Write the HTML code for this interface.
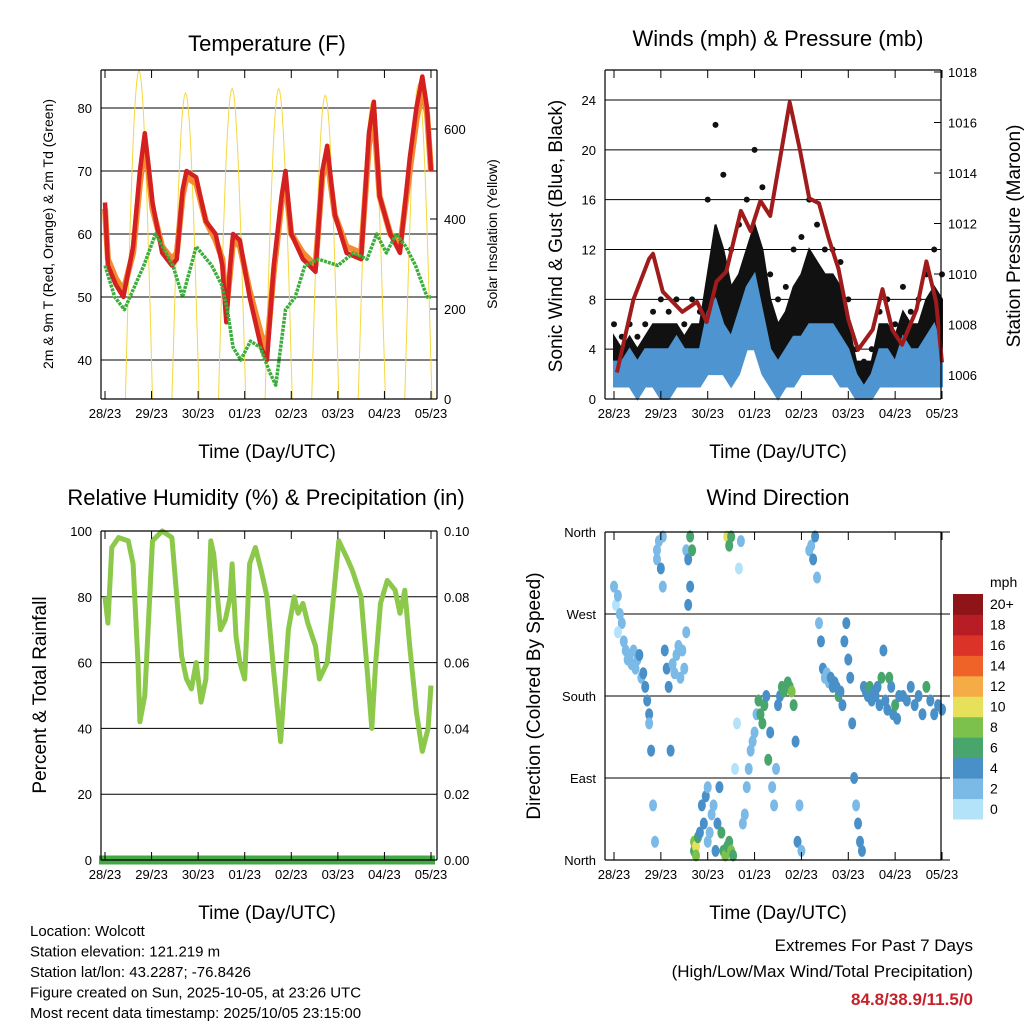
<!DOCTYPE html>
<html><head><meta charset="utf-8"><style>
html,body{margin:0;padding:0;background:#fff;}
svg{display:block;font-family:"Liberation Sans",Arial,sans-serif;}
</style></head><body>
<svg id="c" width="1024" height="1024" viewBox="0 0 1024 1024" xmlns="http://www.w3.org/2000/svg"></svg>
<script>
// ---------- DATA ----------
const dayLabels = ["28/23","29/23","30/23","01/23","02/23","03/23","04/23","05/23"];
const tHours = [0,1.5,5.5,9.5,14.5,18,20.5,22,24.5,29.5,34.5,37,40,42,47,52,57,60.5,62.5,64.5,66,69.5,74.5,80.5,83.5,87,91,93,96,102,108.5,112,114.5,118.5,124.5,132,136,138.5,141.5,147,152,157,160.5,163.5,166,168];
const tRed    = [65,55,52,50,58,70,76,72,65,57,55,56,67,70,69,62,60,55,46,55,60,59,50,42,40,55,66,70,60,56,54,70,74,63,57,56,76,81,66,60,57,72,80,85,80,70];
const tOrange = [64,56,53,51,57,68,74,71,64,58,56,57,66,69,68,62,59,56,48,54,59,58,51,44,42,54,65,68,60,57,55,69,72,63,58,57,74,79,66,60,58,70,78,83,79,70];
const tdHours = [0,5,10,20,26,35,40,47,55,60,63,66,70,75,80,85,88,93,98,103,110,120,128,135,140,145,150,155,160,166,168];
const tdVals  = [55,50,48,55,60,55,50,58,55,52,48,42,40,43,42,38,36,48,50,55,56,55,57,56,60,57,60,58,55,50,50];
const solarPeaks = [730,680,690,690,675,660,700];
const windStepHours = 4;
const gustHi = [6,5,6,5,6,7,8,7,8,6,8,7,16,22,18,12,14,16,20,17,10,8,9,12,13,16,14,12,12,11,8,4,3,4,7,8,6,9,7,8,10,12,10];
const gustBand = [5,4,5,4,5,6,6,6,6,5,6,6,10,14,12,9,10,12,14,12,8,6,7,9,10,12,11,10,10,9,6,3,3,3,6,6,5,7,6,6,8,9,8];
const gustLo = [2,2,2,1,2,2,1,1,2,2,2,2,4,5,4,3,5,8,9,6,3,2,2,3,4,5,5,4,4,3,2,0,0,1,2,2,2,2,2,2,3,3,2];
const windHi = [3,3,4,3,4,4,4,4,5,4,4,4,7,8,6,5,7,9,10,7,4,3,4,5,5,6,6,6,6,5,4,2,1,2,4,4,3,5,4,4,5,6,4];
const windLo = [1,1,1,0,1,1,0,0,1,1,1,1,2,2,2,1,2,4,4,2,1,0,1,1,2,2,2,2,2,1,1,0,0,0,1,1,1,1,1,1,1,1,1];
const presHours = [1.5,10,18,20,25,35,42.5,47.5,52.5,57.5,65,70,75,80,90,95,100,105,110,115,120,125,132.5,137.5,142.5,147.5,155,160,165,168];
const presVals  = [1006.1,1009,1010.6,1010.8,1009.3,1008.5,1008.9,1008.1,1009.7,1010.1,1012.5,1011.7,1012.9,1012.3,1016.8,1015,1013,1012.8,1011.4,1010.2,1008.2,1007,1007.8,1009.4,1007.8,1007.2,1008.6,1010.5,1008.9,1006.5];
const rhHours = [0,1.5,3.5,7,12,14.5,17,18,20.5,24.5,29.5,34.5,37,39.5,42,44.5,47,49.5,52,54.5,56,59.5,62,64.5,65.5,67.5,69.5,72,74.5,77.5,80.5,83.5,87,90.5,94.5,97.5,99.5,102,104.5,108.5,110.5,114.5,120.5,124.5,127.5,132,135.5,137.5,139.5,142,145.5,149.5,152,154.5,157,160.5,163.5,166.5,168];
const rhVals  = [80,72,95,98,97,90,60,42,50,97,100,98,80,62,55,52,60,48,55,97,93,70,73,80,90,68,60,55,90,95,88,80,57,36,70,80,75,78,72,65,55,60,97,92,88,80,55,40,60,78,85,82,75,82,65,45,33,40,53];
const precipVals = [0,0];
const wdHours = [0,1,2,3,4,2,5,6,7,8,9,10,11,12,13,14,15,16,17,18,18,19,20,21,22,22,23,24,25,25,26,27,28,29,30,31,32,33,34,35,36,37,37,38,38,39,39,40,41,41,42,42,43,44,45,46,47,48,48,49,50,51,52,53,54,55,56,57,58,59,60,61,58,59,60,62,63,64,65,66,67,68,69,70,71,72,73,74,75,76,77,78,79,80,81,82,83,84,85,86,87,88,89,90,91,92,93,94,95,96,100,101,102,103,104,105,106,107,108,109,110,111,112,113,114,115,116,117,118,119,120,121,122,123,124,125,126,127,128,129,130,131,132,133,134,135,136,137,138,139,140,141,142,143,144,145,146,148,150,152,154,156,158,160,162,164,166,168];
const wdDirs  = [300,280,290,270,260,250,240,230,220,225,215,230,210,220,225,200,205,190,175,160,150,120,60,20,340,330,350,320,300,355,230,210,190,120,215,205,225,235,200,230,210,250,340,330,280,300,355,340,10,20,15,5,25,30,60,40,70,20,80,30,50,60,10,40,80,30,10,5,15,20,10,5,355,345,355,100,150,320,350,40,50,80,100,120,130,140,160,175,160,150,170,180,110,140,80,60,100,170,180,190,185,190,195,190,185,170,130,20,60,10,340,345,330,355,310,260,240,210,200,205,195,200,190,195,190,180,185,170,240,260,220,200,150,90,60,40,20,10,190,185,180,190,175,185,180,190,170,200,230,175,165,200,190,160,170,155,180,180,175,190,170,180,160,190,175,160,170,165];
const wdSpeeds= [2,0,2,2,2,0,2,2,2,2,2,2,2,2,4,2,4,4,4,4,2,4,2,2,2,2,2,4,2,2,4,4,4,4,2,2,2,2,2,2,2,2,2,4,4,4,6,6,6,8,10,8,6,4,4,4,4,2,2,2,2,2,4,4,4,6,6,8,6,6,8,6,10,6,6,0,0,0,2,2,2,2,2,2,2,2,2,6,6,6,6,4,6,4,2,2,2,4,4,6,6,6,6,6,8,6,4,4,2,2,2,2,4,4,2,2,4,4,2,2,2,4,4,4,4,6,4,4,4,4,4,4,4,4,2,4,4,4,4,4,4,6,4,4,4,4,4,6,4,4,4,6,4,4,6,4,4,4,4,4,4,4,4,6,4,4,4,4,2];
const speedBins = ["0","2","4","6","8","10","12","14","16","18","20+"];
const speedColors = ["#b3e3f8","#7bbae6","#4a90c8","#48a66c","#7cc14c","#e6e05a","#f6ac46","#ef6228","#dc3328","#b81c24","#8e1418"];
const dirLabels = ["North","East","South","West","North"];

// ---------- HELPERS ----------
const NS="http://www.w3.org/2000/svg";
const svg=document.getElementById('c');
function el(tag,attrs,parent){const e=document.createElementNS(NS,tag);for(const k in attrs)e.setAttribute(k,attrs[k]);(parent||svg).appendChild(e);return e;}
function txt(s,x,y,size,anchor,parent,extra){const t=el('text',Object.assign({x:x,y:y,'font-size':size,'text-anchor':anchor||'middle',fill:'#000'},extra||{}),parent);t.textContent=s;return t;}
function panel(x0,y0,w,h){return {x0,y0,w,h,x:hr=>x0+hr/168*w};}
function lin(v,v0,v1,p0,p1){return p0+(v-v0)/(v1-v0)*(p1-p0);}
function xAxis(P,gx0,gx1,name){
  const g=el('g',{});
  
  
  dayLabels.forEach((d,i)=>{const x=P.x0+i*P.w/7;
    el('line',{x1:x,x2:x,y1:P.y0+P.h,y2:P.y0+P.h-8,stroke:'#000','stroke-width':1},g);
    el('line',{x1:x,x2:x,y1:P.y0,y2:P.y0+8,stroke:'#000','stroke-width':1},g);
    txt(d,x,P.y0+P.h+19,13,'middle',g);});
  el('line',{x1:gx0,x2:gx1,y1:P.y0+P.h,y2:P.y0+P.h,stroke:'#000','stroke-width':1.2},g);
  el('line',{x1:gx0,x2:gx1,y1:P.y0,y2:P.y0,stroke:'#000','stroke-width':1.2},g);
  el('line',{x1:gx0,x2:gx0,y1:P.y0,y2:P.y0+P.h,stroke:'#000','stroke-width':1.2},g);
  el('line',{x1:gx1,x2:gx1,y1:P.y0,y2:P.y0+P.h,stroke:'#000','stroke-width':1.2},g);
}
function pathFrom(xs,ys){return xs.map((x,i)=>(i?'L':'M')+x.toFixed(1)+','+ys[i].toFixed(1)).join('');}

// ---------- PANEL 1 ----------
(function(){
  const P=panel(105,70,326,329);
  const yT=v=>lin(v,40,80,360,108);
  const yS=v=>lin(v,0,600,399,129);
  const g=el('g',{});
  
  
  const cp=el('clipPath',{id:'cp1'},g);el('rect',{x:101,y:70,width:336,height:329},cp);
  [40,50,60,70,80].forEach(v=>{el('line',{x1:101,x2:437,y1:yT(v),y2:yT(v),stroke:'#000','stroke-width':1},g);txt(String(v),92,yT(v)+5,13,'end',g);});
  [0,200,400,600].forEach(v=>{el('line',{x1:437,x2:430,y1:yS(v),y2:yS(v),stroke:'#000'},g);txt(String(v),444,yS(v)+5,13,'start',g);});
  const inner=el('g',{'clip-path':'url(#cp1)'},g);
  solarPeaks.forEach((pk,d)=>{const xs=[],ys=[];for(let k=0;k<=24;k++){const hr=d*24+17.5-7+k*14/24;xs.push(P.x(hr));ys.push(yS(pk*Math.sin(Math.PI*k/24)));}
    const s=el('path',{d:pathFrom(xs,ys),fill:'none',stroke:'#f5d840','stroke-width':1},inner);
    
    });
  const o=el('path',{d:pathFrom(tHours.map(P.x),tOrange.map(yT)),fill:'none',stroke:'#f58a30','stroke-width':6,'stroke-linejoin':'round'},inner);
  
  
  const r=el('path',{d:pathFrom(tHours.map(P.x),tRed.map(yT)),fill:'none',stroke:'#d42020','stroke-width':4.5,'stroke-linejoin':'round'},inner);
  
  
  const td=el('path',{d:pathFrom(tdHours.map(P.x),tdVals.map(yT)),fill:'none',stroke:'#3cae3c','stroke-width':3.5,'stroke-dasharray':'3 1','stroke-linejoin':'round'},inner);
  
  
  xAxis(P,101,437,'temperature-axes');
  txt('Temperature (F)',267,51,22,'middle',g);
  txt('Time (Day/UTC)',267,458,19,'middle',g);
  txt('2m & 9m T (Red, Orange) & 2m Td (Green)',0,0,14,'middle',g,{transform:'translate(53,234) rotate(-90)'});
  txt('Solar Insolation (Yellow)',0,0,14,'middle',g,{transform:'translate(497,234) rotate(-90)'});
})();

// ---------- PANEL 2 ----------
(function(){
  const P=panel(614,70,328,329);
  const yW=v=>lin(v,0,24,399,100);
  const yP=v=>lin(v,1006,1018,375,72);
  const g=el('g',{});
  
  
  [0,4,8,12,16,20,24].forEach(v=>{el('line',{x1:605,x2:941,y1:yW(v),y2:yW(v),stroke:'#000'},g);txt(String(v),596,yW(v)+5,13,'end',g);});
  [1006,1008,1010,1012,1014,1016,1018].forEach(v=>{el('line',{x1:941,x2:934,y1:yP(v),y2:yP(v),stroke:'#000'},g);txt(String(v),948,yP(v)+5,13,'start',g);});
  const hrs=gustHi.map((_,i)=>i*windStepHours);
  const gx=hrs.map(P.x);
  const ga=el('path',{d:pathFrom(gx,gustBand.map(yW))+pathFrom(gx.slice().reverse(),gustLo.slice().reverse().map(yW)).replace('M','L')+'Z',fill:'#111',stroke:'#111','stroke-width':2},g);
  
  
  gustHi.forEach((v,i)=>{const c=el('circle',{cx:gx[i],cy:yW(v),r:3,fill:'#111'},g);
    
    });
  const wa=el('path',{d:pathFrom(gx,windHi.map(yW))+pathFrom(gx.slice().reverse(),windLo.slice().reverse().map(yW)).replace('M','L')+'Z',fill:'#4e94d0',stroke:'#4e94d0','stroke-width':2},g);
  
  
  const p=el('path',{d:pathFrom(presHours.map(P.x),presVals.map(yP)),fill:'none',stroke:'#a01c1c','stroke-width':4,'stroke-linejoin':'round'},g);
  
  
  xAxis(P,605,941,'winds-axes');
  txt('Winds (mph) & Pressure (mb)',778,46,22,'middle',g);
  txt('Time (Day/UTC)',778,458,19,'middle',g);
  txt('Sonic Wind & Gust (Blue, Black)',0,0,19,'middle',g,{transform:'translate(562,236) rotate(-90)'});
  txt('Station Pressure (Maroon)',0,0,19,'middle',g,{transform:'translate(1020,236) rotate(-90)'});
})();

// ---------- PANEL 3 ----------
(function(){
  const P=panel(105,531,326,329);
  const yR=v=>lin(v,0,100,860,531);
  const yPr=v=>lin(v,0,0.1,860,531);
  const g=el('g',{});
  
  
  [0,20,40,60,80,100].forEach(v=>{el('line',{x1:101,x2:437,y1:yR(v),y2:yR(v),stroke:'#000'},g);txt(String(v),92,yR(v)+5,13,'end',g);});
  [0,0.02,0.04,0.06,0.08,0.1].forEach(v=>{txt(v.toFixed(2),444,yPr(v)+5,13,'start',g);});
  const rh=el('path',{d:pathFrom(rhHours.map(P.x),rhVals.map(yR)),fill:'none',stroke:'#8cc84a','stroke-width':5,'stroke-linejoin':'round'},g);
  
  
  const pr=el('path',{d:pathFrom([P.x(0)-6,P.x(168)+4],precipVals.map(yPr)),fill:'none',stroke:'#45a845','stroke-width':9},g);
  
  
  xAxis(P,101,437,'humidity-axes');
  txt('Relative Humidity (%) & Precipitation (in)',266,505,22,'middle',g);
  txt('Time (Day/UTC)',267,919,19,'middle',g);
  txt('Percent & Total Rainfall',0,0,19,'middle',g,{transform:'translate(46,695) rotate(-90)'});
})();

// ---------- PANEL 4 ----------
(function(){
  const P=panel(614,532,328,328);
  const yD=v=>lin(v,0,360,860,532);
  const g=el('g',{});
  
  
  dirLabels.forEach((l,i)=>{const y=yD(i*90);el('line',{x1:605,x2:950,y1:y,y2:y,stroke:'#000'},g);txt(l,596,y+5,13,'end',g);});
  wdHours.forEach((h,i)=>{const bi=Math.min(10,Math.floor(wdSpeeds[i]/2));
    const c=el('ellipse',{cx:P.x(h),cy:yD(wdDirs[i]),rx:4,ry:6,fill:speedColors[bi]},g);
    
    });
  xAxis(P,605,941,'direction-axes');
  txt('Wind Direction',778,505,22,'middle',g);
  txt('Time (Day/UTC)',778,919,19,'middle',g);
  txt('Direction (Colored By Speed)',0,0,19,'middle',g,{transform:'translate(540,696) rotate(-90)'});
  const cb=el('g',{});
  
  
  const bh=225/11;
  speedBins.forEach((b,i)=>{const y=819-(i+1)*bh;
    el('rect',{x:953,y:y,width:30,height:bh+0.5,fill:speedColors[i]},cb);
    txt(b,990,y+bh/2+5,14,'start',cb);});
  txt('mph',990,587,14,'start',cb);
})();

// ---------- TEXT ----------
const info=["Location: Wolcott","Station elevation: 121.219 m","Station lat/lon: 43.2287; -76.8426","Figure created on Sun, 2025-10-05, at 23:26 UTC","Most recent data timestamp: 2025/10/05 23:15:00"];
const ig=el('g',{});


info.forEach((s,i)=>txt(s,30,936+i*20.5,15,'start',ig));
const eg=el('g',{});


txt('Extremes For Past 7 Days',973,951,17,'end',eg);
txt('(High/Low/Max Wind/Total Precipitation)',973,977,17,'end',eg);
txt('84.8/38.9/11.5/0',973,1005,17,'end',eg,{fill:'#c8202a','font-weight':'bold'});
</script>
</body></html>
